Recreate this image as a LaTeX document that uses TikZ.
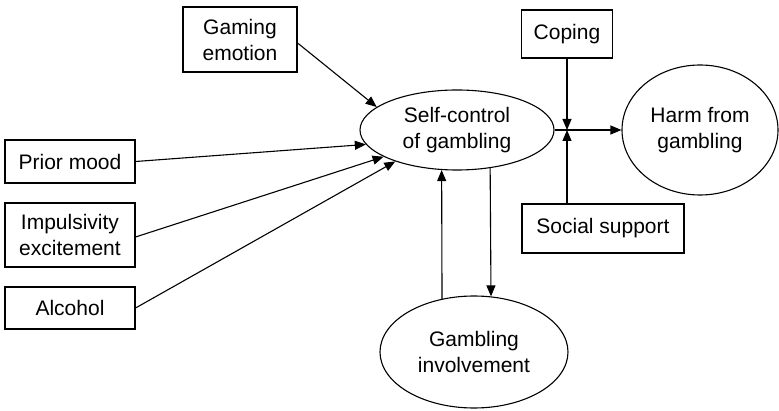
\documentclass[tikz,border=0pt]{standalone}
\usepackage{fontspec}
\setmainfont{Liberation Sans}
\usetikzlibrary{arrows.meta,shapes.geometric}
\begin{document}
\begin{tikzpicture}[x=1pt,y=-1pt,
  every node/.style={font=\fontsize{21}{26}\selectfont, align=center, inner sep=0pt},
  varbox/.style={draw, line width=1.1pt, rectangle},
  latent/.style={draw, line width=1.1pt, ellipse},
  link/.style={line width=1.1pt, -{Triangle[length=11pt,width=9pt]}}]
\useasboundingbox (0,0) rectangle (779,411);

% observed predictors
\node[varbox, minimum width=114pt, minimum height=65pt] (gaming) at (240,39.5) {Gaming\\emotion};
\node[varbox, minimum width=130pt, minimum height=43pt] (prior) at (70,161.5) {Prior mood};
\node[varbox, minimum width=130pt, minimum height=64pt] (impuls) at (70,235) {Impulsivity\\excitement};
\node[varbox, minimum width=130pt, minimum height=42pt] (alcohol) at (70,308) {Alcohol};

% moderators
\node[varbox, minimum width=91pt, minimum height=48pt] (coping) at (567,34) {Coping};
\node[varbox, minimum width=162pt, minimum height=49pt] (social) at (603,228.5) {Social support};

% latent constructs
\node[latent, minimum width=194pt, minimum height=80pt] (self) at (457,130) {Self-control\\of gambling};
\node[latent, minimum width=156pt, minimum height=130pt] (harm) at (700,130) {Harm from\\gambling};
\node[latent, minimum width=188pt, minimum height=112pt] (involve) at (474,352) {Gambling\\involvement};

\coordinate (j) at (567,130);

% paths into self-control
\draw[link] ([yshift=-3.5pt]gaming.east) -- (self.164.3);
\draw[link] (prior.east) -- (self.189.3);
\draw[link] ([yshift=-2pt]impuls.east) -- (self.200);
\draw[link] (alcohol.east) -- (self.207.6);

% reciprocal path with involvement
\draw[link] (involve.121.3) -- (self.249.2);
\draw[link] (self.311.3) -- (involve.73.8);

% moderated path to harm
\draw[link] (self.east) -- (harm.west);
\draw[link] (coping.south) -- (j);
\draw[link] (social.north -| j) -- (j);
\end{tikzpicture}
\end{document}
